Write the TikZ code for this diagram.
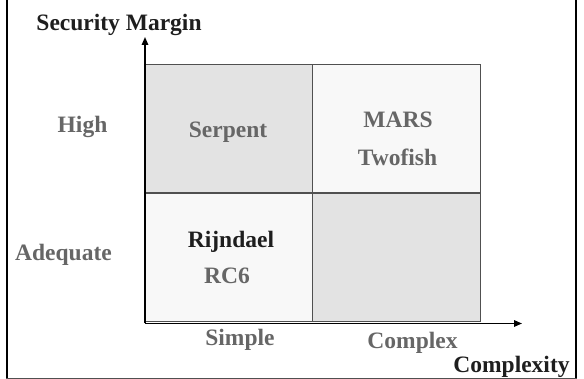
\documentclass[tikz,border=0pt]{standalone}
\usepackage{fontspec}
\setmainfont{Liberation Serif}
\usetikzlibrary{arrows.meta}
\definecolor{cellgray}{HTML}{E3E3E3}
\definecolor{celllight}{HTML}{F8F8F8}
\definecolor{cellline}{HTML}{505050}
\definecolor{labgray}{HTML}{666666}
\definecolor{labdark}{HTML}{1E1E1E}
\begin{document}
\begin{tikzpicture}[x=1pt,y=-1pt,
  cell/.style={draw=cellline, line width=1pt, minimum width=168pt, minimum height=128pt, inner sep=0pt, outer sep=0pt},
  lab/.style={anchor=base, inner sep=0pt, font=\fontsize{23.5}{28}\selectfont\bfseries, text=labgray},
  darklab/.style={lab, text=labdark},
  axis/.style={line width=1.5pt, -{Triangle[length=8pt,width=6.5pt]}}]
\useasboundingbox (0,0) rectangle (584,379);
% frame
\draw[line width=2pt] (7,-2) -- (7,379);
\draw[line width=2pt] (576,-2) -- (576,379);
\draw[line width=1.2pt, draw=cellline] (6,378.4) -- (577,378.4);
% cells
\node[cell, fill=cellgray]  (tl) at (229,129) {};
\node[cell, fill=celllight] (tr) at (396.5,129) {};
\node[cell, fill=celllight] (bl) at (229,258) {};
\node[cell, fill=cellgray]  (br) at (396.5,258) {};
% axes
\coordinate (o) at (145,323.5);
\coordinate (ytip) at (145,37);
\coordinate (xtip) at (522,323.5);
\draw[axis] (o) -- (ytip);
\draw[axis] (o) -- (xtip);
% labels
\node[darklab] (sm) at (119,30.6) {Security Margin};
\node[lab] (high) at (82.5,132.5) {High};
\node[lab] (adeq) at (63.5,260.6) {Adequate};
\node[lab] (serp) at (228,137.6) {Serpent};
\node[lab] (mars) at (398,127.6) {MARS};
\node[lab] (two) at (397.5,165.6) {Twofish};
\node[darklab] (rijn) at (231,247.6) {Rijndael};
\node[lab] (rc6) at (227,283.6) {RC6};
\node[lab] (simp) at (240,345.6) {Simple};
\node[lab] (cplx) at (412.5,348.6) {Complex};
\node[darklab] (cxty) at (511.5,372.6) {Complexity};
\end{tikzpicture}
\end{document}
